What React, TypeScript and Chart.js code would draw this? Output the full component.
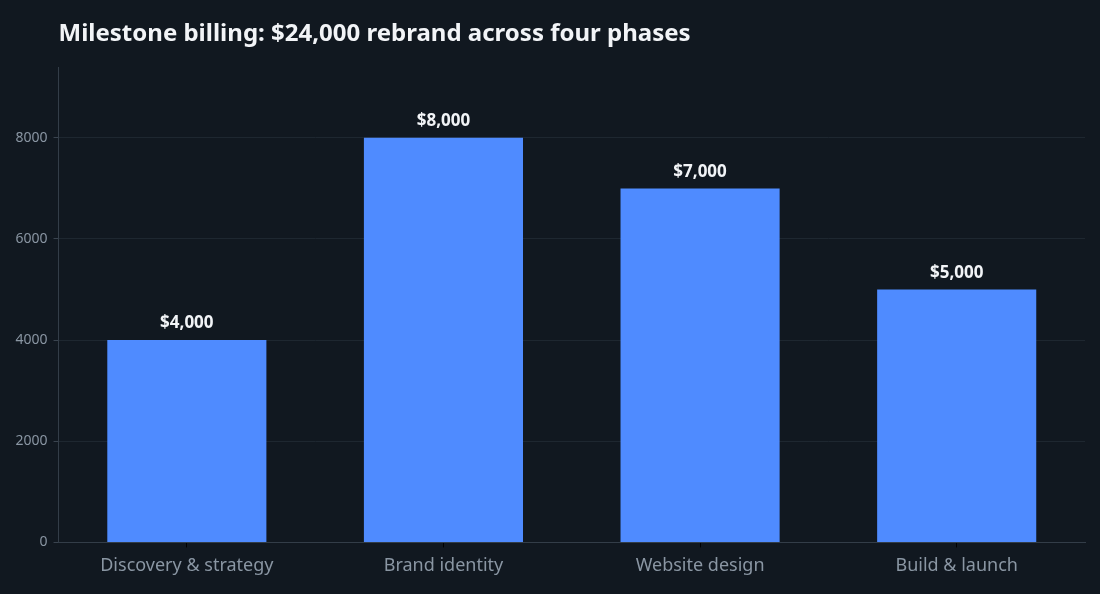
import React, { useEffect, useRef } from "react";
import { Chart, registerables } from "chart.js";

Chart.register(...registerables);

const TITLE = "Milestone billing: $24,000 rebrand across four phases";
const categories = ["Discovery & strategy", "Brand identity", "Website design", "Build & launch"];
const amounts = [4000, 8000, 7000, 5000];
const valueLabels = ["$4,000", "$8,000", "$7,000", "$5,000"];
const yTicks = [0, 2000, 4000, 6000, 8000];
const yMax = 9400;

const BG = "#111820";
const FONT = "'Noto Sans', 'Open Sans', sans-serif";

const bgPlugin = {
  id: "bgFill",
  beforeDraw(chart: any) {
    const { ctx, width, height } = chart;
    ctx.save();
    ctx.fillStyle = BG;
    ctx.fillRect(0, 0, width, height);
    ctx.restore();
  },
};

const titlePlugin = {
  id: "leftTitle",
  afterDraw(chart: any) {
    const { ctx, chartArea } = chart;
    ctx.save();
    ctx.fillStyle = "#f2f4f7";
    ctx.font = `bold 24px ${FONT}`;
    ctx.textAlign = "left";
    ctx.textBaseline = "middle";
    ctx.fillText(TITLE, chartArea.left, 34);
    ctx.restore();
  },
};

const valueLabelPlugin = {
  id: "valueLabels",
  afterDatasetsDraw(chart: any) {
    const { ctx } = chart;
    const meta = chart.getDatasetMeta(0);
    ctx.save();
    ctx.fillStyle = "#f2f4f7";
    ctx.font = `bold 17px ${FONT}`;
    ctx.textAlign = "center";
    ctx.textBaseline = "bottom";
    meta.data.forEach((el: any, i: number) => {
      ctx.fillText(valueLabels[i], el.x, el.y - 8);
    });
    ctx.restore();
  },
};

export default function App() {
  const ref = useRef<HTMLCanvasElement | null>(null);

  useEffect(() => {
    document.body.style.margin = "0";
    document.body.style.background = BG;
    if (!ref.current) return;
    const chart = new Chart(ref.current, {
      type: "bar",
      data: {
        labels: categories,
        datasets: [
          {
            data: amounts,
            backgroundColor: "#4f8bff",
            borderWidth: 0,
            barPercentage: 0.62,
            categoryPercentage: 1,
          },
        ],
      },
      options: {
        animation: false,
        responsive: false,
        maintainAspectRatio: false,
        layout: { padding: { left: 9.5, right: 15, top: 67, bottom: 9 } },
        plugins: {
          legend: { display: false },
          title: { display: false },
          tooltip: { enabled: false },
        },
        scales: {
          x: {
            grid: {
              offset: false,
              drawOnChartArea: false,
              color: "#000000",
              tickColor: "#000000",
              tickLength: 5,
            },
            border: { color: "#333d48" },
            ticks: {
              color: "#8a96a3",
              font: { family: FONT, size: 18 },
              padding: 8,
            },
          },
          y: {
            min: 0,
            max: yMax,
            afterBuildTicks: (scale: any) => {
              scale.ticks = yTicks.map((v) => ({ value: v }));
            },
            grid: { color: "#1e2730", tickColor: "#3a444f", tickLength: 5 },
            border: { color: "#333d48" },
            ticks: {
              color: "#8a96a3",
              font: { family: FONT, size: 14 },
              padding: 6,
              callback: (v: any) => String(v),
            },
          },
        },
      },
      plugins: [bgPlugin, titlePlugin, valueLabelPlugin],
    });
    return () => chart.destroy();
  }, []);

  return (
    <div style={{ width: 1100, height: 594, background: BG }}>
      <canvas ref={ref} width={1100} height={594} style={{ display: "block" }} />
    </div>
  );
}
